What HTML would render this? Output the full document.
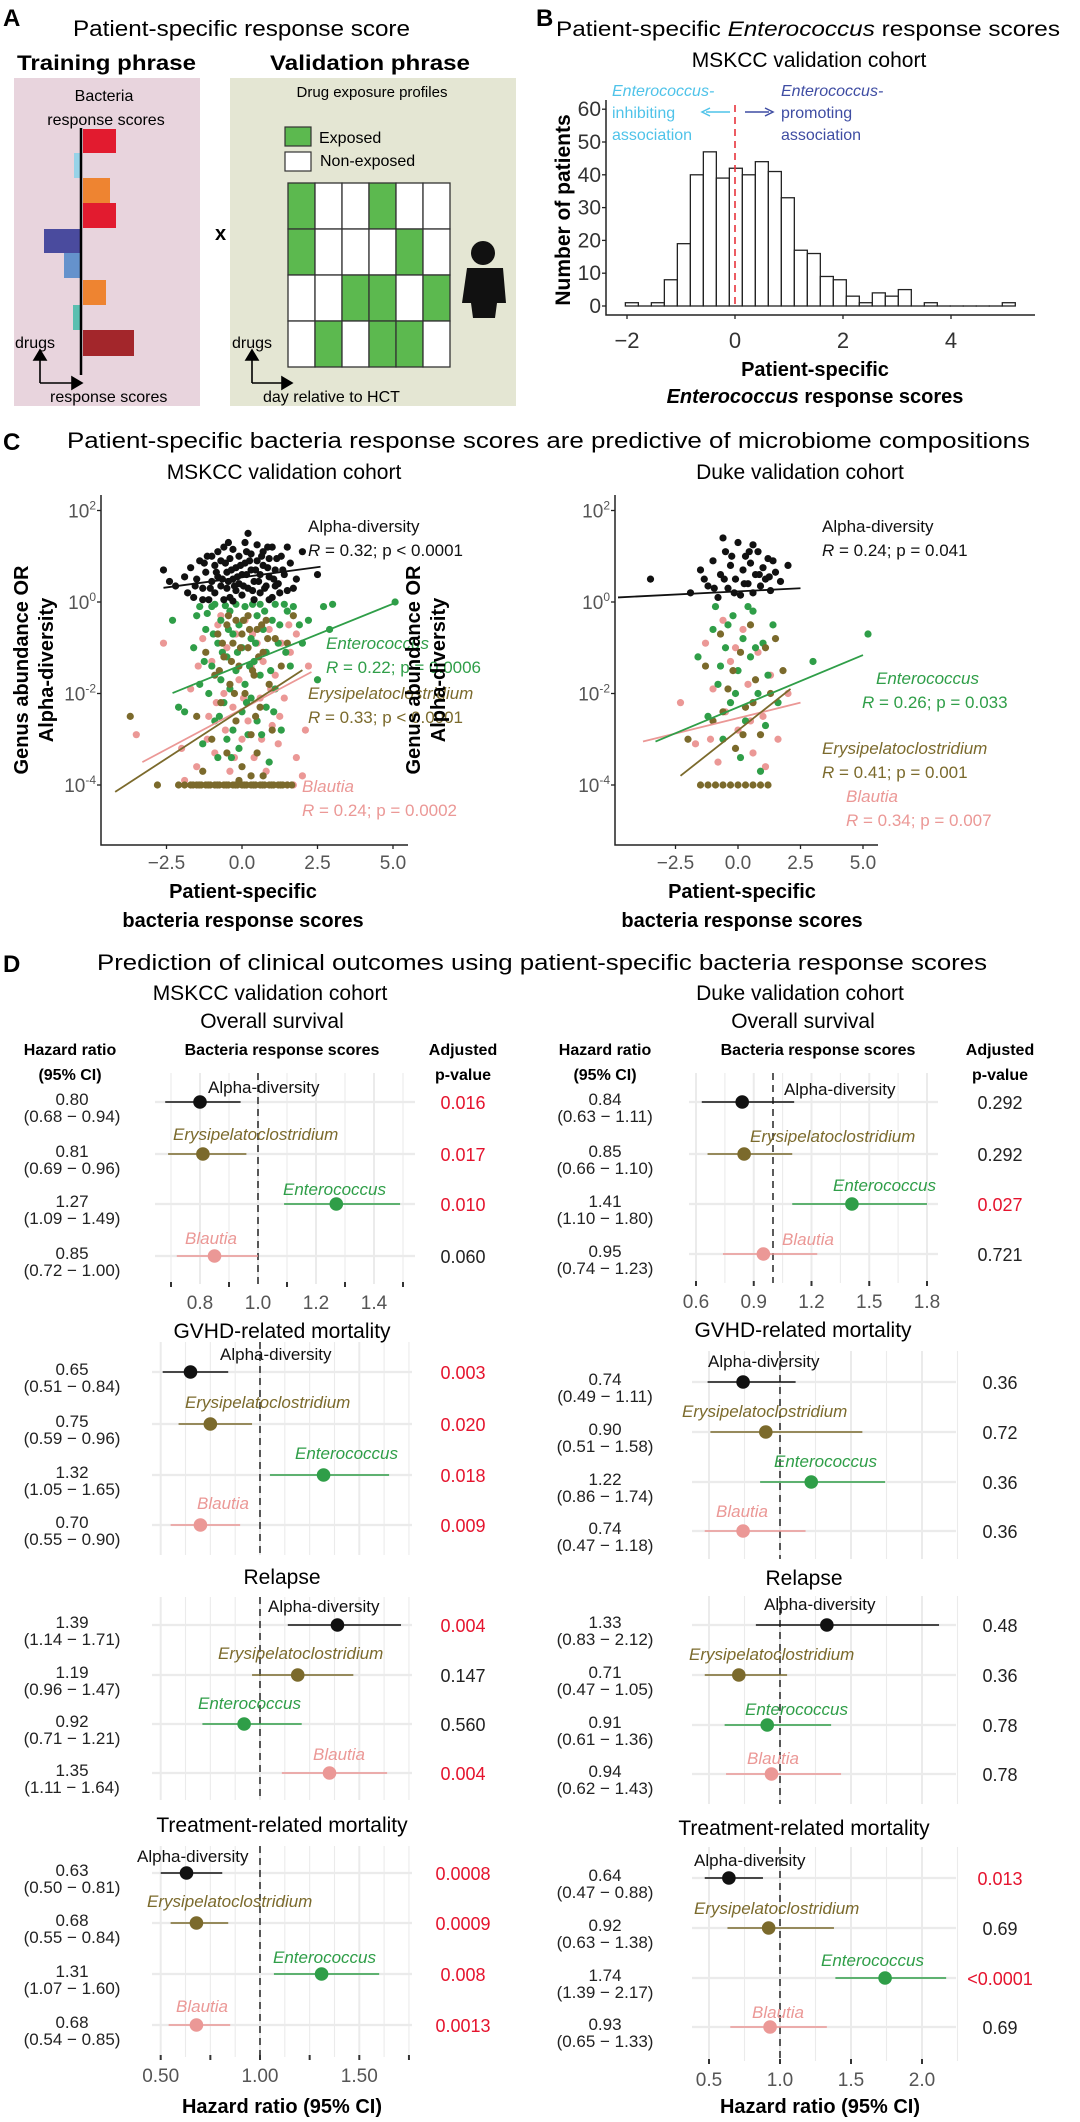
<!DOCTYPE html>
<html><head><meta charset="utf-8">
<style>
html,body{margin:0;padding:0;background:#fff;}
svg{display:block;font-family:"Liberation Sans",Arial,sans-serif;}
</style></head>
<body>
<svg id="fig" xmlns="http://www.w3.org/2000/svg" width="1080" height="2122" viewBox="0 0 1080 2122">
<rect x="0" y="0" width="1080" height="2122" fill="#fff"/>
<!-- Panel A -->
<g>
<text x="3" y="26" font-size="24" font-weight="bold">A</text>
<text x="73" y="36" font-size="22" textLength="337" lengthAdjust="spacingAndGlyphs">Patient-specific response score</text>
<text x="17" y="70" font-size="21" font-weight="bold" textLength="179" lengthAdjust="spacingAndGlyphs">Training phrase</text>
<text x="270" y="70" font-size="21" font-weight="bold" textLength="200" lengthAdjust="spacingAndGlyphs">Validation phrase</text>
<rect x="14" y="78" width="186" height="328" fill="#e8d4dd"/>
<rect x="230" y="78" width="286" height="328" fill="#e4e6d3"/>
<text x="104" y="101" font-size="16" text-anchor="middle">Bacteria</text>
<text x="106" y="125" font-size="16" text-anchor="middle">response scores</text>
<g>
<rect x="83" y="129" width="33" height="24" fill="#e21b2f"/>
<rect x="74" y="153" width="8" height="25" fill="#97d3e8"/>
<rect x="83" y="178" width="27" height="25" fill="#ee8431"/>
<rect x="83" y="203" width="33" height="25" fill="#e21b2f"/>
<rect x="44" y="229" width="38" height="24" fill="#4a4b9e"/>
<rect x="64" y="253" width="18" height="25" fill="#6592cc"/>
<rect x="83" y="280" width="23" height="25" fill="#ee8431"/>
<rect x="73" y="305" width="9" height="25" fill="#5bbfb0"/>
<rect x="83" y="330" width="51" height="26" fill="#a3262b"/>
<line x1="81" y1="128" x2="81" y2="375" stroke="#000" stroke-width="2.5"/>
</g>
<text x="15" y="348" font-size="16">drugs</text>
<path d="M40 383 V358 M34 360 L40 350 L46 360 Z M40 383 H75 M72 377 L82 383 L72 389 Z" stroke="#000" stroke-width="1.6" fill="#000"/>
<text x="50" y="402" font-size="16">response scores</text>
<text x="215" y="240" font-size="20" font-weight="bold">x</text>
<text x="372" y="97" font-size="15" text-anchor="middle">Drug exposure profiles</text>
<rect x="285" y="127" width="26" height="19" fill="#5cb94f" stroke="#333" stroke-width="1.2"/>
<text x="319" y="143" font-size="16">Exposed</text>
<rect x="285" y="152" width="26" height="19" fill="#fff" stroke="#333" stroke-width="1.2"/>
<text x="320" y="166" font-size="16">Non-exposed</text>
<g id="exposure-grid"></g>
<g>
<circle cx="483" cy="253" r="12" fill="#111"/>
<path d="M467 268 H503 L506 303 H497 L495 318 H473 L471 303 H462 Z" fill="#111"/>
</g>
<text x="232" y="348" font-size="16">drugs</text>
<path d="M252 383 V358 M246 360 L252 350 L258 360 Z M252 383 H285 M282 377 L292 383 L282 389 Z" stroke="#000" stroke-width="1.6" fill="#000"/>
<text x="263" y="402" font-size="16">day relative to HCT</text>
</g>
<!-- Panel B -->
<g id="panelB">
<text x="536" y="26" font-size="24" font-weight="bold">B</text>
<text x="556" y="36" font-size="21" textLength="504" lengthAdjust="spacingAndGlyphs">Patient-specific <tspan font-style="italic">Enterococcus</tspan> response scores</text>
<text x="809" y="67" font-size="21" text-anchor="middle">MSKCC validation cohort</text>
<text x="612" y="96" font-size="16" font-style="italic" fill="#4fc3e9">Enterococcus-</text>
<text x="612" y="118" font-size="16" fill="#4fc3e9">inhibiting</text>
<text x="612" y="140" font-size="16" fill="#4fc3e9">association</text>
<path d="M730 112 H706 M710 108 L702 112 L710 116" stroke="#4fc3e9" stroke-width="1.5" fill="none"/>
<path d="M745 112 H769 M765 108 L773 112 L765 116" stroke="#3f4da3" stroke-width="1.5" fill="none"/>
<text x="781" y="96" font-size="16" font-style="italic" fill="#3f4da3">Enterococcus-</text>
<text x="781" y="118" font-size="16" fill="#3f4da3">promoting</text>
<text x="781" y="140" font-size="16" fill="#3f4da3">association</text>
<text transform="translate(570,210) rotate(-90)" font-size="21" font-weight="bold" text-anchor="middle">Number of patients</text>
<text x="815" y="376" font-size="20" font-weight="bold" text-anchor="middle">Patient-specific</text>
<text x="815" y="403" font-size="20" font-weight="bold" text-anchor="middle"><tspan font-style="italic">Enterococcus</tspan> response scores</text>
</g>
<!-- Panel C -->
<g id="panelC">
<text x="3" y="450" font-size="24" font-weight="bold">C</text>
<text x="67" y="448" font-size="22" textLength="963" lengthAdjust="spacingAndGlyphs">Patient-specific bacteria response scores are predictive of microbiome compositions</text>
<text x="284" y="479" font-size="21" text-anchor="middle">MSKCC validation cohort</text>
<text x="800" y="479" font-size="21" text-anchor="middle">Duke validation cohort</text>
</g>
<!-- Panel D -->
<g id="panelD">
<text x="3" y="972" font-size="24" font-weight="bold">D</text>
<text x="97" y="970" font-size="22" textLength="890" lengthAdjust="spacingAndGlyphs">Prediction of clinical outcomes using patient-specific bacteria response scores</text>
<text x="270" y="1000" font-size="21" text-anchor="middle">MSKCC validation cohort</text>
<text x="272" y="1028" font-size="21" text-anchor="middle">Overall survival</text>
<text x="800" y="1000" font-size="21" text-anchor="middle">Duke validation cohort</text>
<text x="803" y="1028" font-size="21" text-anchor="middle">Overall survival</text>
<g font-size="16" font-weight="bold" text-anchor="middle">
<text x="70" y="1055">Hazard ratio</text>
<text x="70" y="1080">(95% CI)</text>
<text x="282" y="1055">Bacteria response scores</text>
<text x="463" y="1055">Adjusted</text>
<text x="463" y="1080">p-value</text>
<text x="605" y="1055">Hazard ratio</text>
<text x="605" y="1080">(95% CI)</text>
<text x="818" y="1055">Bacteria response scores</text>
<text x="1000" y="1055">Adjusted</text>
<text x="1000" y="1080">p-value</text>
</g>
<g font-size="21" text-anchor="middle">
<text x="282" y="1338">GVHD-related mortality</text>
<text x="282" y="1584">Relapse</text>
<text x="282" y="1832">Treatment-related mortality</text>
<text x="803" y="1337">GVHD-related mortality</text>
<text x="804" y="1585">Relapse</text>
<text x="804" y="1835">Treatment-related mortality</text>
</g>
<text x="282" y="2113" font-size="20" font-weight="bold" text-anchor="middle">Hazard ratio (95% CI)</text>
<text x="820" y="2113" font-size="20" font-weight="bold" text-anchor="middle">Hazard ratio (95% CI)</text>
</g>
</svg>
<script>
// ---------- Data ----------
const exposureGrid = [
  [1,0,0,1,0,0],
  [1,0,0,0,1,0],
  [0,0,1,1,0,1],
  [0,1,0,1,1,0]
];
const histCounts = [1,0,1,8,19,40,47,39,42,40,44,41,33,17,16,9,8,3,1,4,3,5,0,1,0,0,0,0,0,1];
const histFirstCenter = -1.91;
const histBinWidth = 0.2407;
const histYTicks = [0,10,20,30,40,50,60];
const histXTicks = [-2,0,2,4];

const scatterXTicks = [-2.5,0,2.5,5];
const scatterXTickLabels = ['\u22122.5','0.0','2.5','5.0'];
const scatterYTicks = [2,0,-2,-4];
const scatterYTickLabels = ['2','0','-2','-4'];

const msAlpha = [[-2.6,0.7],[-2.4,0.45],[-2.2,0.35],[-1.9,0.55],[-1.8,0.2],[-1.7,0.75],[-1.6,0.1],[-1.5,0.5],[-1.4,0.9],[-1.3,0.3],[-1.2,0.65],[-1.1,0.05],[-1.0,1.0],[-1.0,0.45],[-0.9,0.8],[-0.9,0.2],[-0.8,1.1],[-0.8,0.55],[-0.7,0.35],[-0.7,0.9],[-0.6,0.05],[-0.6,1.2],[-0.5,0.65],[-0.5,0.3],[-0.4,0.95],[-0.4,0.1],[-0.3,0.5],[-0.3,1.15],[-0.2,0.75],[-0.2,0.25],[-0.1,1.0],[-0.1,0.4],[0.0,0.6],[0.0,0.15],[0.1,1.3],[0.1,0.85],[0.2,1.5],[0.2,0.3],[0.3,0.7],[0.3,1.05],[0.4,0.45],[0.4,0.05],[0.5,0.9],[0.5,1.25],[0.6,0.6],[0.6,0.2],[0.7,1.1],[0.7,0.8],[0.8,0.35],[0.9,0.95],[0.9,0.55],[1.0,1.2],[1.0,0.1],[1.1,0.7],[1.2,0.4],[1.3,1.0],[1.4,0.6],[1.5,0.25],[1.6,0.85],[1.8,0.5],[2.0,1.1],[2.5,0.6],[-1.3,0.05],[0.9,0.05],[-0.3,0.02],[1.5,1.2],
  [-1.55,0.35],[-1.25,0.85],[-1.05,0.3],[-0.85,0.65],[-0.65,0.5],[-0.55,0.85],[-0.45,0.45],[-0.35,0.7],[-0.25,0.35],[-0.15,0.55],[-0.05,0.8],[0.05,0.35],[0.15,0.6],[0.25,0.9],[0.35,0.25],[0.45,0.7],[0.55,0.45],[0.65,1.0],[0.75,0.3],[0.85,0.75],[1.05,0.5],[1.15,0.95],[1.25,0.2],[1.35,0.7],[1.7,0.3],[-1.15,1.0],[-0.45,1.3],[0.15,1.1],[0.85,1.2],[1.1,0.35]];
const msEntero = [[-2.3,-0.4],[-2.1,-2.3],[-1.9,-2.4],[-1.6,-1.0],[-1.5,-0.3],[-1.4,-1.8],[-1.3,-3.1],[-1.2,-0.6],[-1.1,-2.0],[-1.0,-1.4],[-1.0,-0.1],[-0.9,-2.6],[-0.8,-0.9],[-0.8,-3.4],[-0.7,-1.7],[-0.7,-0.4],[-0.6,-2.2],[-0.5,-1.2],[-0.5,-3.0],[-0.4,-0.2],[-0.4,-1.9],[-0.3,-2.8],[-0.3,-0.7],[-0.2,-1.5],[-0.1,-3.2],[-0.1,-0.5],[0.0,-2.4],[0.0,-1.0],[0.1,-0.1],[0.1,-1.8],[0.2,-2.9],[0.3,-0.8],[0.3,-2.1],[0.4,-1.3],[0.5,-0.3],[0.5,-2.6],[0.6,-1.6],[0.7,-0.6],[0.8,-2.3],[0.8,-1.1],[0.9,-3.5],[1.0,-0.4],[1.1,-1.9],[1.2,-0.9],[1.3,-2.8],[1.5,-0.2],[1.6,-1.4],[1.9,-0.5],[2.2,-0.4],[2.5,-1.7],[2.7,-0.1],[2.9,-0.6],[3.0,-0.05],[5.07,0.0],[-0.2,-0.05],[0.6,-0.05],[-0.9,-0.05],[1.1,-0.05],[-1.4,-0.1],[1.4,-0.05],
  [-1.25,-1.3],[-0.95,-0.7],[-0.75,-2.5],[-0.65,-1.1],[-0.45,-0.6],[-0.35,-3.4],[-0.15,-1.1],[0.05,-0.4],[0.15,-2.2],[0.25,-1.4],[0.45,-0.9],[0.65,-2.9],[0.75,-0.2],[0.95,-1.5],[1.05,-2.4],[1.25,-0.5],[1.45,-1.1],[-1.15,-0.25],[0.35,-0.05],[-0.55,-0.08],[2.0,-0.9],[1.7,-0.1]];
const msErysip = [[-2.8,-4],[-2.1,-4],[-1.9,-4],[-1.7,-4],[-1.5,-4],[-1.35,-4],[-1.2,-4],[-1.05,-4],[-0.9,-4],[-0.75,-4],[-0.6,-4],[-0.45,-4],[-0.3,-4],[-0.15,-4],[0,-4],[0.15,-4],[0.3,-4],[0.45,-4],[0.6,-4],[0.75,-4],[0.9,-4],[1.05,-4],[1.2,-4],[1.35,-4],[1.5,-4],[-3.7,-2.5],[-1.5,-2.5],[-1.2,-1.1],[-1.0,-3.0],[-0.9,-1.6],[-0.8,-0.7],[-0.7,-2.2],[-0.6,-1.2],[-0.5,-0.5],[-0.5,-3.3],[-0.4,-1.8],[-0.3,-0.9],[-0.2,-2.6],[-0.2,-0.4],[-0.1,-1.4],[0.0,-0.7],[0.0,-3.6],[0.1,-2.0],[0.2,-1.0],[0.2,-0.3],[0.3,-2.9],[0.4,-1.6],[0.5,-0.6],[0.5,-3.3],[0.6,-2.3],[0.7,-1.1],[0.8,-0.4],[0.9,-1.8],[1.0,-2.8],[1.1,-0.8],[1.3,-1.4],[1.5,-0.9],[1.7,-0.3],[-1.3,-3.7],[0.7,-3.8],[-0.1,-3.9],[0.3,-3.8],
  [-1.62,-4],[-1.42,-4],[-1.12,-4],[-0.82,-4],[-0.52,-4],[-0.22,-4],[0.08,-4],[0.38,-4],[0.68,-4],[0.98,-4],[1.28,-4],[1.65,-4],[-0.65,-0.9],[-0.35,-1.3],[-0.05,-1.0],[0.25,-0.6],[0.55,-1.2],[0.85,-0.8],[-0.45,-0.3],[0.05,-0.4],[0.35,-1.5],[-0.75,-1.5],[0.65,-0.5],[-0.25,-2.0],[0.45,-2.5]];
const msBlautia = [[-3.5,-2.9],[-2.6,-0.9],[-2.0,-3.2],[-1.7,-1.9],[-1.5,-3.6],[-1.3,-0.8],[-1.1,-2.5],[-1.0,-1.3],[-0.9,-3.3],[-0.8,-0.5],[-0.6,-2.0],[-0.5,-1.0],[-0.4,-3.7],[-0.3,-2.3],[-0.2,-0.7],[-0.1,-1.7],[0.0,-3.0],[0.1,-0.4],[0.2,-2.6],[0.3,-1.4],[0.4,-3.4],[0.5,-0.9],[0.6,-2.1],[0.7,-1.3],[0.8,-3.7],[0.9,-0.6],[1.0,-2.7],[1.1,-1.6],[1.2,-3.1],[1.3,-0.9],[1.4,-2.1],[1.5,-4.0],[1.6,-1.1],[1.8,-3.4],[2.0,-3.8],[2.1,-2.8],[1.7,-4.0],[1.8,-0.7],[2.2,-1.4],
  [-1.45,-1.4],[-1.15,-3.0],[-0.85,-2.2],[-0.55,-2.8],[-0.25,-3.4],[0.05,-2.1],[0.35,-0.7],[0.65,-3.0],[0.95,-1.9],[1.25,-2.5],[1.55,-0.5],[-0.7,-0.3],[0.2,-1.0],[-1.9,-3.9]];
const msLineAlpha = [[-2.6,0.31],[2.6,0.77]];
const msLineEntero = [[-2.3,-1.99],[5.07,-0.02]];
const msLineErysip = [[-4.2,-4.15],[2.0,-1.49]];
const msLineBlautia = [[-3.3,-3.5],[2.3,-1.53]];

const dkAlpha = [[-3.5,0.5],[-1.9,0.2],[-1.5,0.7],[-1.2,0.35],[-1.0,0.9],[-0.8,0.1],[-0.7,0.6],[-0.5,1.1],[-0.4,0.3],[-0.3,0.8],[-0.1,0.5],[0.0,1.3],[0.1,0.15],[0.2,0.7],[0.3,1.0],[0.4,0.4],[0.5,0.85],[0.6,0.2],[0.7,0.6],[0.8,1.1],[0.9,0.35],[1.0,0.75],[1.1,0.5],[1.2,0.95],[1.3,0.25],[1.5,0.65],[1.7,0.45],[2.0,0.8],[-0.6,1.4],[0.6,1.25],
  [-1.35,0.5],[-0.95,0.3],[-0.55,0.5],[-0.15,0.2],[0.25,0.4],[0.45,1.1],[0.85,0.6],[1.25,0.55],[-0.25,1.0],[1.4,0.9]];
const dkEntero = [[-1.6,-1.2],[-1.2,-2.5],[-1.0,-0.6],[-0.8,-1.8],[-0.6,-3.0],[-0.5,-1.0],[-0.3,-2.2],[-0.2,-0.3],[0.0,-1.5],[0.1,-3.4],[0.2,-0.8],[0.3,-2.6],[0.5,-1.2],[0.6,-0.2],[0.8,-2.0],[0.9,-3.7],[1.0,-0.9],[1.2,-1.6],[1.4,-0.5],[1.6,-2.2],[5.2,-0.7],[3.0,-1.3],[-0.9,-0.1],[0.4,-0.1],
  [-0.7,-1.4],[-0.1,-2.0],[0.7,-1.0],[1.1,-2.7],[-0.4,-0.5]];
const dkErysip = [[-1.5,-4],[-1.2,-4],[-0.9,-4],[-0.6,-4],[-0.3,-4],[0,-4],[0.3,-4],[0.6,-4],[0.9,-4],[1.2,-4],[-2.0,-3.0],[-1.3,-1.4],[-1.0,-2.6],[-0.7,-0.7],[-0.4,-1.9],[-0.1,-3.2],[0.1,-1.1],[0.3,-2.3],[0.5,-0.5],[0.7,-1.7],[0.9,-2.9],[1.1,-1.0],[1.3,-2.0],[1.5,-0.8],[1.8,-1.5],
  [-0.2,-1.5],[0.2,-2.9],[0.6,-2.2],[-0.6,-2.4]];
const dkBlautia = [[-2.3,-2.2],[-1.7,-3.1],[-1.3,-0.9],[-1.0,-1.9],[-0.8,-3.5],[-0.5,-2.4],[-0.3,-1.3],[0.0,-2.8],[0.2,-0.6],[0.4,-1.8],[0.6,-3.3],[0.8,-1.1],[1.0,-2.5],[1.3,-1.6],[1.6,-3.0],[2.0,-2.0],[-0.6,-0.4],
  [-0.1,-1.0],[0.5,-2.6],[1.1,-3.6],[-1.1,-3.0]];
const dkLineAlpha = [[-4.8,0.1],[2.5,0.3]];
const dkLineEntero = [[-3.3,-3.05],[5.0,-1.16]];
const dkLineErysip = [[-2.3,-3.8],[2.1,-1.9]];
const dkLineBlautia = [[-3.8,-3.05],[2.5,-2.2]];

const forestGroups = ['Alpha-diversity','Erysipelatoclostridium','Enterococcus','Blautia'];
const msOsHR = [0.80,0.81,1.27,0.85], msOsLo = [0.68,0.69,1.09,0.72], msOsHi = [0.94,0.96,1.49,1.00], msOsP = ['0.016','0.017','0.010','0.060'], msOsSig = [1,1,1,0];
const msGvHR = [0.65,0.75,1.32,0.70], msGvLo = [0.51,0.59,1.05,0.55], msGvHi = [0.84,0.96,1.65,0.90], msGvP = ['0.003','0.020','0.018','0.009'], msGvSig = [1,1,1,1];
const msRlHR = [1.39,1.19,0.92,1.35], msRlLo = [1.14,0.96,0.71,1.11], msRlHi = [1.71,1.47,1.21,1.64], msRlP = ['0.004','0.147','0.560','0.004'], msRlSig = [1,0,0,1];
const msTrHR = [0.63,0.68,1.31,0.68], msTrLo = [0.50,0.55,1.07,0.54], msTrHi = [0.81,0.84,1.60,0.85], msTrP = ['0.0008','0.0009','0.008','0.0013'], msTrSig = [1,1,1,1];
const dkOsHR = [0.84,0.85,1.41,0.95], dkOsLo = [0.63,0.66,1.10,0.74], dkOsHi = [1.11,1.10,1.80,1.23], dkOsP = ['0.292','0.292','0.027','0.721'], dkOsSig = [0,0,1,0];
const dkGvHR = [0.74,0.90,1.22,0.74], dkGvLo = [0.49,0.51,0.86,0.47], dkGvHi = [1.11,1.58,1.74,1.18], dkGvP = ['0.36','0.72','0.36','0.36'], dkGvSig = [0,0,0,0];
const dkRlHR = [1.33,0.71,0.91,0.94], dkRlLo = [0.83,0.47,0.61,0.62], dkRlHi = [2.12,1.05,1.36,1.43], dkRlP = ['0.48','0.36','0.78','0.78'], dkRlSig = [0,0,0,0];
const dkTrHR = [0.64,0.92,1.74,0.93], dkTrLo = [0.47,0.63,1.39,0.65], dkTrHi = [0.88,1.38,2.17,1.33], dkTrP = ['0.013','0.69','<0.0001','0.69'], dkTrSig = [1,0,1,0];
const msOsTicks = [0.8,1.0,1.2,1.4], msOsTickLabels = ['0.8','1.0','1.2','1.4'];
const msLowTicks = [0.5,1.0,1.5], msLowTickLabels = ['0.50','1.00','1.50'];
const dkOsTicks = [0.6,0.9,1.2,1.5,1.8], dkOsTickLabels = ['0.6','0.9','1.2','1.5','1.8'];
const dkLowTicks = [0.5,1.0,1.5,2.0], dkLowTickLabels = ['0.5','1.0','1.5','2.0'];

// ---------- Helpers ----------
const NS = 'http://www.w3.org/2000/svg';
const svg = document.getElementById('fig');
function mk(tag, attrs, parent){
  const e = document.createElementNS(NS, tag);
  for (const k in attrs) e.setAttribute(k, attrs[k]);
  (parent || svg).appendChild(e);
  return e;
}
const COL = {alpha:'#111111', entero:'#2f9e48', erysip:'#7b6a2c', blautia:'#eb9896'};
const groupColors = [COL.alpha, COL.erysip, COL.entero, COL.blautia];

// ---------- Panel A grid ----------
(function(){
  const g = document.getElementById('exposure-grid');
  const x0 = 288, y0 = 183, cw = 27, ch = 46;
  exposureGrid.forEach((row, r) => row.forEach((v, c) => {
    const el = mk('rect', {x:x0+c*cw, y:y0+r*ch, width:cw, height:ch, fill: v ? '#5cb94f' : '#fff', stroke:'#333', 'stroke-width':1.3}, g);
    
    
  }));
})();

// ---------- Panel B histogram ----------
(function(){
  const g = document.getElementById('panelB');
  const xB = v => 735 + v * 54;
  const yB = c => 306 - c * 3.28;
  histCounts.forEach((c, i) => {
    const center = histFirstCenter + i * histBinWidth;
    const x1 = xB(center - histBinWidth/2), x2 = xB(center + histBinWidth/2);
    const el = mk('rect', {x:x1, y:yB(c), width:x2-x1, height:Math.max(yB(0)-yB(c),0.01), fill:'#fff', stroke:'#222', 'stroke-width':1.3}, g);
    
    
  });
  const ax = mk('path', {d:'M606 100 V315 H1035', stroke:'#222', 'stroke-width':1.5, fill:'none'}, g);
  
  
  histYTicks.forEach(t => {
    const tk = mk('line', {x1:602, x2:606, y1:yB(t), y2:yB(t), stroke:'#222', 'stroke-width':1.3}, g);
    
    
    const tl = mk('text', {x:601, y:yB(t)+7, 'font-size':21, 'text-anchor':'end', fill:'#333'}, g);
    tl.textContent = t;
    
    
  });
  histXTicks.forEach(t => {
    const tk = mk('line', {x1:xB(t), x2:xB(t), y1:315, y2:319, stroke:'#222', 'stroke-width':1.3}, g);
    
    
    const tl = mk('text', {x:xB(t), y:348, 'font-size':22, 'text-anchor':'middle', fill:'#333'}, g);
    tl.textContent = t < 0 ? '\u2212' + Math.abs(t) : t;
    
    
  });
  const dl = mk('line', {x1:xB(0), x2:xB(0), y1:105, y2:306, stroke:'#e8333c', 'stroke-width':1.6, 'stroke-dasharray':'7,5'}, g);
  
  
})();

// ---------- Panel C scatter ----------
function drawScatter(cfg){
  const g = document.getElementById('panelC');
  const xs = v => cfg.x0 + v * cfg.ppu;
  const ys = v => 602 - v * 45.75;
  const ax = mk('path', {d:`M${cfg.axisX} 495 V845 H${cfg.axisEnd}`, stroke:'#222', 'stroke-width':1.5, fill:'none'}, g);
  
  
  scatterYTicks.forEach((t, i) => {
    const tk = mk('line', {x1:cfg.axisX-4, x2:cfg.axisX, y1:ys(t), y2:ys(t), stroke:'#222', 'stroke-width':1.3}, g);
    
    
    const tl = mk('text', {x:cfg.axisX-5, y:ys(t)+7, 'font-size':19, 'text-anchor':'end', fill:'#555'}, g);
    
    
    const base = document.createElementNS(NS, 'tspan'); base.textContent = '10'; tl.appendChild(base);
    const sup = document.createElementNS(NS, 'tspan'); sup.setAttribute('font-size', 12); sup.setAttribute('dy', -8); sup.textContent = scatterYTickLabels[i]; tl.appendChild(sup);
  });
  scatterXTicks.forEach((t, i) => {
    const tk = mk('line', {x1:xs(t), x2:xs(t), y1:845, y2:849, stroke:'#222', 'stroke-width':1.3}, g);
    
    
    const tl = mk('text', {x:xs(t), y:869, 'font-size':19, 'text-anchor':'middle', fill:'#555'}, g);
    tl.textContent = scatterXTickLabels[i];
    
    
  });
  const series = [[cfg.blautia, COL.blautia, 'blautia'], [cfg.entero, COL.entero, 'enterococcus'], [cfg.erysip, COL.erysip, 'erysipelatoclostridium'], [cfg.alpha, COL.alpha, 'alpha-diversity']];
  series.forEach(([pts, col, nm]) => {
    pts.forEach(p => {
      const c = mk('circle', {cx:xs(p[0]), cy:ys(p[1]), r:3.6, fill:col}, g);
      
      
    });
  });
  const lines = [[cfg.lBlautia, COL.blautia, 'blautia'], [cfg.lEntero, COL.entero, 'enterococcus'], [cfg.lErysip, COL.erysip, 'erysipelatoclostridium'], [cfg.lAlpha, COL.alpha, 'alpha-diversity']];
  lines.forEach(([l, col, nm]) => {
    const ln = mk('line', {x1:xs(l[0][0]), y1:ys(l[0][1]), x2:xs(l[1][0]), y2:ys(l[1][1]), stroke:col, 'stroke-width':1.8}, g);
    
    
  });
  const yt1 = mk('text', {transform:`translate(${cfg.titleX},670) rotate(-90)`, 'font-size':20, 'font-weight':'bold', 'text-anchor':'middle'}, g);
  yt1.textContent = 'Genus abundance OR';
  
  
  const yt2 = mk('text', {transform:`translate(${cfg.titleX+25},670) rotate(-90)`, 'font-size':20, 'font-weight':'bold', 'text-anchor':'middle'}, g);
  yt2.textContent = 'Alpha-diversity';
  
  
  const xt1 = mk('text', {x:cfg.xTitle, y:898, 'font-size':20, 'font-weight':'bold', 'text-anchor':'middle'}, g);
  xt1.textContent = 'Patient-specific';
  
  
  const xt2 = mk('text', {x:cfg.xTitle, y:927, 'font-size':20, 'font-weight':'bold', 'text-anchor':'middle'}, g);
  xt2.textContent = 'bacteria response scores';
  
  
  cfg.ann.forEach(a => {
    const t1 = mk('text', {x:a[0], y:a[1], 'font-size':17, fill:a[4], 'font-style': a[5] ? 'italic' : 'normal'}, g);
    t1.textContent = a[2];
    
    
    const t2 = mk('text', {x:a[6] || a[0], y:a[1]+24, 'font-size':17, fill:a[4]}, g);
    
    
    const r = document.createElementNS(NS, 'tspan'); r.setAttribute('font-style','italic'); r.textContent = 'R'; t2.appendChild(r);
    const rest = document.createElementNS(NS, 'tspan'); rest.textContent = a[3]; t2.appendChild(rest);
  });
}
drawScatter({prefix:'mskcc-scatter', x0:242, ppu:30.2, axisX:101, axisEnd:408, titleX:28, xTitle:243,
  alpha:msAlpha, entero:msEntero, erysip:msErysip, blautia:msBlautia,
  lAlpha:msLineAlpha, lEntero:msLineEntero, lErysip:msLineErysip, lBlautia:msLineBlautia,
  ann:[[308,532,'Alpha-diversity',' = 0.32; p < 0.0001',COL.alpha,false],
       [326,649,'Enterococcus',' = 0.22; p = 0.0006',COL.entero,true],
       [308,699,'Erysipelatoclostridium',' = 0.33; p < 0.0001',COL.erysip,true],
       [302,792,'Blautia',' = 0.24; p = 0.0002',COL.blautia,true]]});
drawScatter({prefix:'duke-scatter', x0:738, ppu:25, axisX:615, axisEnd:878, titleX:420, xTitle:742,
  alpha:dkAlpha, entero:dkEntero, erysip:dkErysip, blautia:dkBlautia,
  lAlpha:dkLineAlpha, lEntero:dkLineEntero, lErysip:dkLineErysip, lBlautia:dkLineBlautia,
  ann:[[822,532,'Alpha-diversity',' = 0.24; p = 0.041',COL.alpha,false],
       [876,684,'Enterococcus',' = 0.26; p = 0.033',COL.entero,true,862],
       [822,754,'Erysipelatoclostridium',' = 0.41; p = 0.001',COL.erysip,true],
       [846,802,'Blautia',' = 0.34; p = 0.007',COL.blautia,true]]});

// ---------- Panel D forest plots ----------
function drawForest(cfg){
  const g = mk('g', {});
  
  
  const xf = v => cfg.x1 + (v - 1) * cfg.ppu;
  for (let v = cfg.gStart; v <= cfg.gEnd + 1e-6; v += cfg.gStep) {
    const major = cfg.ticks.some(t => Math.abs(t - v) < 1e-6);
    const gl = mk('line', {x1:xf(v), x2:xf(v), y1:cfg.gy0, y2:cfg.gy1, stroke:'#ebebeb', 'stroke-width': major ? 2 : 1.1}, g);
    
    
  }
  cfg.rows.forEach(y => {
    const gl = mk('line', {x1:cfg.gx0, x2:cfg.gx1, y1:y, y2:y, stroke:'#ebebeb', 'stroke-width':2.2}, g);
    
    
  });
  const ref = mk('line', {x1:xf(1), x2:xf(1), y1:cfg.gy0, y2:cfg.gy1, stroke:'#333', 'stroke-width':1.6, 'stroke-dasharray':'7,5'}, g);
  
  
  if (cfg.showTicks) {
    cfg.ticks.forEach((t, i) => {
      const tl = mk('text', {x:xf(t), y:cfg.gy1+25, 'font-size':19, 'text-anchor':'middle', fill:'#555'}, g);
      tl.textContent = cfg.tickLabels[i];
      
      
    });
    for (let v = cfg.gStart; v <= cfg.gEnd + 1e-6; v += cfg.gStep * cfg.tickEvery) {
      const tk = mk('line', {x1:xf(v), x2:xf(v), y1:cfg.gy1-2, y2:cfg.gy1+3, stroke:'#333', 'stroke-width':2}, g);
      
      
    }
  }
  cfg.hr.forEach((h, i) => {
    const y = cfg.rows[i];
    const col = groupColors[i];
    const ci = mk('line', {x1:xf(cfg.lo[i]), x2:xf(cfg.hi[i]), y1:y, y2:y, stroke:col, 'stroke-width':1.6}, g);
    
    
    const pt = mk('circle', {cx:xf(h), cy:y, r:6.8, fill:col}, g);
    
    
    const lb = mk('text', {x:cfg.labX[i], y:cfg.labY[i], 'font-size':17, fill:col, 'font-style': i === 0 ? 'normal' : 'italic'}, g);
    lb.textContent = forestGroups[i];
    
    
    const hv = mk('text', {x:cfg.hazX, y:y+3, 'font-size':17, 'text-anchor':'middle', fill:'#222'}, g);
    hv.textContent = h.toFixed(2);
    
    
    const hc = mk('text', {x:cfg.hazX, y:y+20, 'font-size':17, 'text-anchor':'middle', fill:'#222'}, g);
    hc.textContent = '(' + cfg.lo[i].toFixed(2) + ' \u2212 ' + cfg.hi[i].toFixed(2) + ')';
    
    
    const pv = mk('text', {x:cfg.pX, y:y+7, 'font-size':18, 'text-anchor':'middle', fill: cfg.sig[i] ? '#e5132d' : '#222'}, g);
    pv.textContent = cfg.p[i];
    
    
  });
}
const L = {hazX:72, pX:463};
const R = {hazX:605, pX:1000};
drawForest(Object.assign({name:'mskcc-os-forest', x1:258, ppu:290, gStart:0.7, gEnd:1.5, gStep:0.1, tickEvery:2, gx0:155, gx1:415, gy0:1073, gy1:1284,
  rows:[1102,1154,1204,1256], labX:[208,173,283,185], labY:[1093,1140,1195,1244], ticks:msOsTicks, tickLabels:msOsTickLabels, showTicks:true,
  hr:msOsHR, lo:msOsLo, hi:msOsHi, p:msOsP, sig:msOsSig}, L));
drawForest(Object.assign({name:'mskcc-gvhd-forest', x1:260, ppu:198.6, gStart:0.5, gEnd:1.75, gStep:0.125, tickEvery:2, gx0:152, gx1:412, gy0:1342, gy1:1555,
  rows:[1372,1424,1475,1525], labX:[220,185,295,197], labY:[1360,1408,1459,1509], ticks:msLowTicks, tickLabels:msLowTickLabels, showTicks:false,
  hr:msGvHR, lo:msGvLo, hi:msGvHi, p:msGvP, sig:msGvSig}, L));
drawForest(Object.assign({name:'mskcc-relapse-forest', x1:260, ppu:198.6, gStart:0.5, gEnd:1.75, gStep:0.125, tickEvery:2, gx0:152, gx1:412, gy0:1597, gy1:1800,
  rows:[1625,1675,1724,1773], labX:[268,218,198,313], labY:[1612,1659,1709,1760], ticks:msLowTicks, tickLabels:msLowTickLabels, showTicks:false,
  hr:msRlHR, lo:msRlLo, hi:msRlHi, p:msRlP, sig:msRlSig}, L));
drawForest(Object.assign({name:'mskcc-trm-forest', x1:260, ppu:198.6, gStart:0.5, gEnd:1.75, gStep:0.125, tickEvery:2, gx0:152, gx1:412, gy0:1846, gy1:2057,
  rows:[1873,1923,1974,2025], labX:[137,147,273,176], labY:[1862,1907,1963,2012], ticks:msLowTicks, tickLabels:msLowTickLabels, showTicks:true,
  hr:msTrHR, lo:msTrLo, hi:msTrHi, p:msTrP, sig:msTrSig}, L));
drawForest(Object.assign({name:'duke-os-forest', x1:773, ppu:192.5, gStart:0.6, gEnd:1.8, gStep:0.15, tickEvery:2, gx0:689, gx1:938, gy0:1073, gy1:1283,
  rows:[1102,1154,1204,1254], labX:[784,750,833,782], labY:[1095,1142,1191,1245], ticks:dkOsTicks, tickLabels:dkOsTickLabels, showTicks:true,
  hr:dkOsHR, lo:dkOsLo, hi:dkOsHi, p:dkOsP, sig:dkOsSig}, R));
drawForest(Object.assign({name:'duke-gvhd-forest', x1:780, ppu:142, gStart:0.5, gEnd:2.25, gStep:0.25, tickEvery:2, gx0:692, gx1:956, gy0:1351, gy1:1559,
  rows:[1382,1432,1482,1531], labX:[708,682,774,716], labY:[1367,1417,1467,1517], ticks:dkLowTicks, tickLabels:dkLowTickLabels, showTicks:false,
  hr:dkGvHR, lo:dkGvLo, hi:dkGvHi, p:dkGvP, sig:dkGvSig}, R));
drawForest(Object.assign({name:'duke-relapse-forest', x1:780, ppu:142, gStart:0.5, gEnd:2.25, gStep:0.25, tickEvery:2, gx0:692, gx1:956, gy0:1596, gy1:1804,
  rows:[1625,1675,1725,1774], labX:[764,689,745,747], labY:[1610,1660,1715,1764], ticks:dkLowTicks, tickLabels:dkLowTickLabels, showTicks:false,
  hr:dkRlHR, lo:dkRlLo, hi:dkRlHi, p:dkRlP, sig:dkRlSig}, R));
drawForest(Object.assign({name:'duke-trm-forest', x1:780, ppu:142, gStart:0.5, gEnd:2.25, gStep:0.25, tickEvery:2, gx0:692, gx1:956, gy0:1847, gy1:2061,
  rows:[1878,1928,1978,2027], labX:[694,694,821,752], labY:[1866,1914,1966,2018], ticks:dkLowTicks, tickLabels:dkLowTickLabels, showTicks:true,
  hr:dkTrHR, lo:dkTrLo, hi:dkTrHi, p:dkTrP, sig:dkTrSig}, R));
</script>
</body></html>
